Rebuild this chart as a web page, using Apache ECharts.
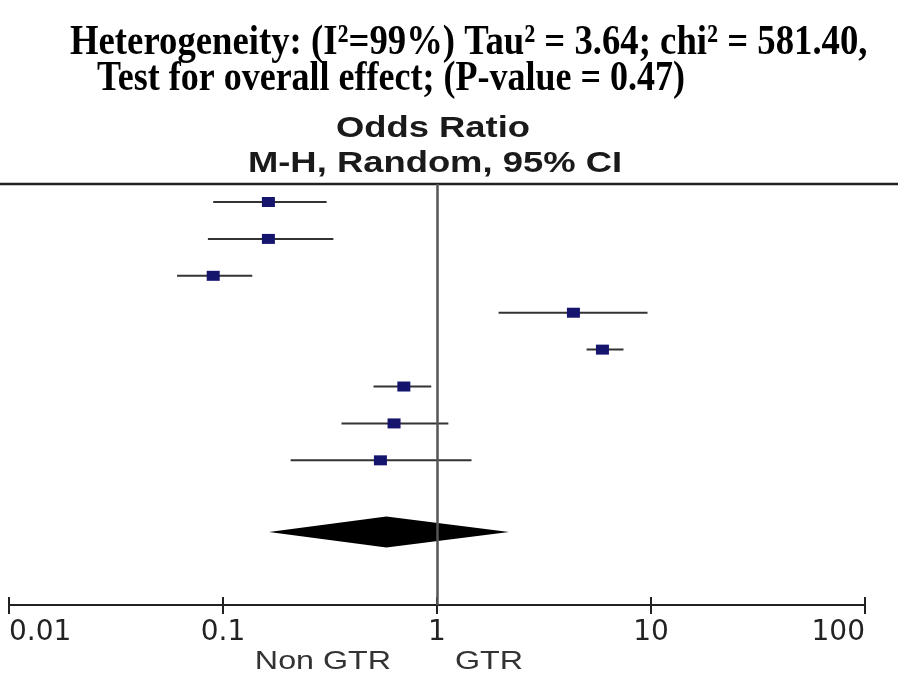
<!DOCTYPE html>
<html><head><meta charset="utf-8">
<script src="https://cdn.jsdelivr.net/npm/echarts@6/dist/echarts.min.js"></script>
<style>html,body{margin:0;padding:0;background:#fff}#c{width:903px;height:675px}</style>
</head><body><div id="c"></div>
<script>
// ---- data ----
const studyRows  = [1, 2, 3, 4, 5, 6, 7, 8];
const studyOR    = [0.163, 0.163, 0.090, 4.34, 5.93, 0.70, 0.63, 0.544];
const studyLower = [0.090, 0.085, 0.061, 1.94, 5.00, 0.505, 0.358, 0.207];
const studyUpper = [0.305, 0.328, 0.137, 9.63, 7.44, 0.94, 1.13, 1.45];
const pooledRow   = [9.94];
const pooledOR    = [0.58];
const pooledLower = [0.164];
const pooledUpper = [2.17];
const tickValues = [0.01, 0.1, 1, 10, 100];
const tickLabels = ['0.01', '0.1', '1', '10', '100'];
const titleLine1 = 'Heterogeneity: (I\u00B2=99%) Tau\u00B2 = 3.64; chi\u00B2 = 581.40,';
const titleLine2 = 'Test for overall effect; (P-value = 0.47)';
const header1 = 'Odds Ratio';
const header2 = 'M-H, Random, 95% CI';
const favoursLeft = 'Non GTR';
const favoursRight = 'GTR';

// ---- chart ----
const chart = echarts.init(document.getElementById('c'), null, {renderer: 'canvas'});
const gridBox = {left: 9, right: 38, top: 184, bottom: 70};
const yRange = {min: 0.512, max: 11.92};

const studyData = studyRows.map((r, i) => [studyLower[i], studyUpper[i], studyOR[i], r]);
const pooledData = pooledRow.map((r, i) => [pooledLower[i], pooledUpper[i], pooledOR[i], r]);

function labelFor(v) {
  const i = tickValues.findIndex(t => Math.abs(Math.log10(t) - Math.log10(v)) < 1e-6);
  return i >= 0 ? tickLabels[i] : '';
}

const option = {
  backgroundColor: '#ffffff',
  animation: false,
  grid: [
    Object.assign({}, gridBox),
    Object.assign({}, gridBox)
  ],
  xAxis: [
    {
      type: 'log', logBase: 10, min: 0.01, max: 100, gridIndex: 0,
      axisLine: {show: true, lineStyle: {color: '#222', width: 2}},
      axisTick: {show: true, inside: true, length: 8, lineStyle: {color: '#222', width: 2}},
      minorTick: {show: false},
      splitLine: {show: false},
      axisLabel: {
        show: true, margin: 14, color: '#222', fontSize: 28, fontFamily: 'DejaVu Sans',
        formatter: labelFor, alignMinLabel: 'left', alignMaxLabel: 'right',
        showMinLabel: true, showMaxLabel: true
      }
    },
    {
      type: 'log', logBase: 10, min: 0.01, max: 100, gridIndex: 1,
      axisLine: {show: false},
      axisTick: {show: true, inside: false, length: 9, lineStyle: {color: '#222', width: 2}},
      splitLine: {show: false},
      axisLabel: {show: false}
    }
  ],
  yAxis: [
    {type: 'value', inverse: true, min: yRange.min, max: yRange.max, gridIndex: 0, show: false},
    {type: 'value', inverse: true, min: yRange.min, max: yRange.max, gridIndex: 1, show: false}
  ],
  series: [
    {
      type: 'custom', name: 'studies', xAxisIndex: 0, yAxisIndex: 0, z: 3,
      encode: {x: [0, 1, 2], y: 3},
      data: studyData,
      renderItem: function (params, api) {
        const y = api.value(3);
        const lo = api.coord([api.value(0), y]);
        const hi = api.coord([api.value(1), y]);
        const est = api.coord([api.value(2), y]);
        return {
          type: 'group',
          children: [
            {type: 'line', shape: {x1: lo[0], y1: lo[1], x2: hi[0], y2: hi[1]},
             style: {stroke: '#333', lineWidth: 2}},
            {type: 'rect', shape: {x: est[0] - 6.5, y: est[1] - 5, width: 13, height: 10},
             style: {fill: '#15156e'}}
          ]
        };
      }
    },
    {
      type: 'custom', name: 'pooled', xAxisIndex: 0, yAxisIndex: 0, z: 3,
      encode: {x: [0, 1, 2], y: 3},
      data: pooledData,
      renderItem: function (params, api) {
        const y = api.value(3);
        const lo = api.coord([api.value(0), y]);
        const hi = api.coord([api.value(1), y]);
        const est = api.coord([api.value(2), y]);
        const h = 15.5;
        return {
          type: 'polygon',
          shape: {points: [[lo[0], lo[1]], [est[0], est[1] - h], [hi[0], hi[1]], [est[0], est[1] + h]]},
          style: {fill: '#000'}
        };
      }
    },
    {
      type: 'line', name: 'null', xAxisIndex: 0, yAxisIndex: 0, z: 10, data: [],
      markLine: {
        silent: true, symbol: 'none', animation: false,
        label: {show: false},
        lineStyle: {color: '#555', width: 2.5, type: 'solid'},
        data: [{xAxis: 1}]
      }
    }
  ],
  graphic: [
    {type: 'text', x: 70, y: 43, scaleX: 1.02, scaleY: 1.17, style: {text: titleLine1, font: 'bold 36px "Liberation Serif"', fill: '#000', textAlign: 'left', textVerticalAlign: 'middle'}},
    {type: 'text', x: 97, y: 79, scaleX: 1.0, scaleY: 1.17, style: {text: titleLine2, font: 'bold 36px "Liberation Serif"', fill: '#000', textAlign: 'left', textVerticalAlign: 'middle'}},
    {type: 'text', x: 433, y: 129, scaleX: 1.3, scaleY: 1.05, style: {text: header1, font: 'bold 28px "Liberation Sans"', fill: '#1a1a1a', textAlign: 'center', textVerticalAlign: 'middle'}},
    {type: 'text', x: 435, y: 164, scaleX: 1.3, scaleY: 1.05, style: {text: header2, font: 'bold 28px "Liberation Sans"', fill: '#1a1a1a', textAlign: 'center', textVerticalAlign: 'middle'}},
    {type: 'line', shape: {x1: 0, y1: 184, x2: 898, y2: 184}, style: {stroke: '#222', lineWidth: 2.5}},
    {type: 'text', x: 391, y: 662, scaleX: 1.24, style: {text: favoursLeft, font: '26px "Liberation Sans"', fill: '#333', textAlign: 'right', textVerticalAlign: 'middle'}},
    {type: 'text', x: 455, y: 662, scaleX: 1.24, style: {text: favoursRight, font: '26px "Liberation Sans"', fill: '#333', textAlign: 'left', textVerticalAlign: 'middle'}}
  ]
};
chart.setOption(option);
</script>
</body></html>
